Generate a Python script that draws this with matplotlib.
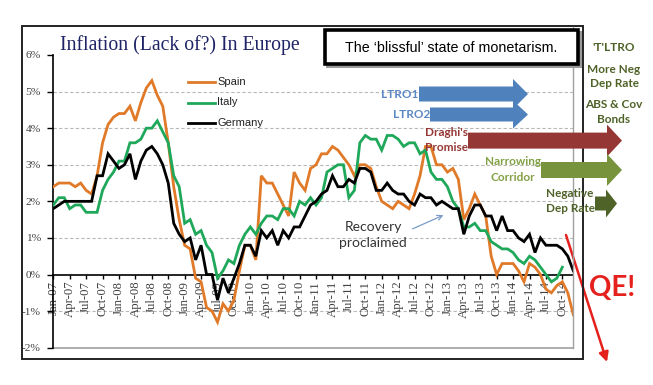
import matplotlib
matplotlib.use("Agg")
import matplotlib.pyplot as plt
from matplotlib.patches import Polygon, Rectangle
from matplotlib.lines import Line2D
from matplotlib.transforms import Affine2D

# ---------------- data (monthly, % y/y) ----------------
spain = [2.4, 2.5, 2.5, 2.5, 2.4, 2.5, 2.3, 2.2, 2.7, 3.6, 4.1, 4.3,
         4.4, 4.4, 4.6, 4.2, 4.7, 5.1, 5.3, 4.9, 4.6, 3.6, 2.4, 1.5,
         0.8, 0.7, -0.1, -0.2, -0.9, -1.0, -1.3, -0.8, -1.0, -0.7, 0.1, 0.8,
         0.8, 0.4, 2.7, 2.5, 2.5, 2.2, 1.9, 1.6, 2.8, 2.5, 2.3, 2.9,
         3.0, 3.3, 3.3, 3.5, 3.4, 3.2, 3.0, 2.7, 3.0, 3.0, 2.9, 2.4,
         2.0, 1.9, 1.8, 2.0, 1.9, 1.8, 2.2, 2.7, 3.5, 3.5, 3.0, 3.0,
         2.8, 2.9, 2.6, 1.5, 1.8, 2.2, 1.9, 1.6, 0.5, 0.0, 0.3, 0.3,
         0.3, 0.1, -0.2, 0.3, 0.2, 0.0, -0.4, -0.5, -0.3, -0.2, -0.5, -1.1]
italy = [1.9, 2.1, 2.1, 1.8, 1.9, 1.9, 1.7, 1.7, 1.7, 2.3, 2.6, 2.8,
         3.1, 3.1, 3.6, 3.6, 3.7, 4.0, 4.0, 4.2, 3.9, 3.6, 2.7, 2.4,
         1.4, 1.5, 1.1, 1.2, 0.8, 0.6, -0.1, 0.1, 0.4, 0.3, 0.8, 1.1,
         1.3, 1.1, 1.4, 1.6, 1.6, 1.5, 1.8, 1.8, 1.6, 2.0, 1.9, 2.1,
         1.9, 2.1, 2.8, 2.9, 3.0, 3.0, 2.1, 2.3, 3.6, 3.8, 3.7, 3.7,
         3.4, 3.8, 3.8, 3.7, 3.5, 3.6, 3.6, 3.3, 3.4, 2.8, 2.6, 2.6,
         2.4, 2.0, 1.8, 1.3, 1.3, 1.4, 1.2, 1.2, 0.9, 0.8, 0.7, 0.7,
         0.6, 0.4, 0.3, 0.5, 0.4, 0.2, 0.0, -0.2, -0.1, 0.2]
germany = [1.8, 1.9, 2.0, 2.0, 2.0, 2.0, 2.0, 2.0, 2.7, 2.7, 3.3, 3.1,
           2.9, 3.0, 3.3, 2.6, 3.1, 3.4, 3.5, 3.3, 3.0, 2.5, 1.4, 1.1,
           0.9, 1.0, 0.4, 0.8, 0.0, 0.0, -0.7, -0.1, -0.5, -0.1, 0.3, 0.8,
           0.8, 0.5, 1.2, 1.0, 1.2, 0.8, 1.2, 1.0, 1.3, 1.3, 1.6, 1.9,
           2.0, 2.2, 2.3, 2.7, 2.4, 2.4, 2.6, 2.5, 2.9, 2.9, 2.8, 2.3,
           2.3, 2.5, 2.3, 2.2, 2.2, 2.0, 1.9, 2.2, 2.1, 2.1, 1.9, 2.0,
           1.9, 1.8, 1.8, 1.1, 1.6, 1.9, 1.9, 1.6, 1.6, 1.2, 1.6, 1.2,
           1.2, 1.0, 0.9, 1.1, 0.6, 1.0, 0.8, 0.8, 0.8, 0.7, 0.5, 0.1]
series_names = ["Spain", "Italy", "Germany"]
series_colors = ["#E07A28", "#1FA85A", "#000000"]
quarter_months = ["Jan", "Apr", "Jul", "Oct"]
years = ["07", "08", "09", "10", "11", "12", "13", "14"]
tick_labels = [f"{m}-{y}" for y in years for m in quarter_months]
y_ticks = [-2, -1, 0, 1, 2, 3, 4, 5, 6]

W, H = 653, 385
fig = plt.figure(figsize=(W / 100, H / 100), dpi=100)
fig.patch.set_facecolor("white")
PX = Affine2D().scale(1 / W, -1 / H).translate(0, 1) + fig.transFigure


def fx(x):
    return x / W


def fy(y):
    return 1 - y / H


# outer chart border
fig.add_artist(Rectangle((21.7, 26), 583.3 - 21.7, 359 - 26, fill=False,
                         edgecolor="#222222", lw=1.4, transform=PX))
# plot-area right border
fig.add_artist(Line2D([573.3, 573.3], [27, 347.7], color="#A0A0A0", lw=1.0,
                      transform=PX))

ax = fig.add_axes([fx(53.3), fy(347.7), (573.3 - 53.3) / W, (347.7 - 55) / H])
ax.set_xlim(0, 95)
ax.set_ylim(-2, 6)
ax.set_facecolor("none")

for g in [-1, 1, 2, 3, 4, 5]:
    ax.axhline(g, color="#B8B8B8", lw=0.8, ls=(0, (3, 2)), zorder=1)
ax.axhline(-2, color="#A0A0A0", lw=1.2, zorder=1, clip_on=False)

for name, vals, col in zip(series_names, [spain, italy, germany], series_colors):
    ax.plot(range(len(vals)), vals, color=col, lw=2.0, zorder=3,
            solid_joinstyle="miter")

for s in ["top", "right"]:
    ax.spines[s].set_visible(False)
ax.spines["bottom"].set_position(("data", 0))
ax.spines["bottom"].set_color("black")
ax.spines["bottom"].set_linewidth(1.2)
ax.spines["left"].set_color("black")
ax.spines["left"].set_linewidth(1.2)
ax.spines["left"].set_bounds(-2, 6)

ax.set_yticks(y_ticks)
ax.set_yticklabels([f"{v}%" for v in y_ticks], fontfamily="Liberation Serif",
                   fontsize=8.2, color="#404040")
ax.set_xticks(range(0, 94, 3))
ax.set_xticklabels(tick_labels, rotation=90, fontfamily="Liberation Serif",
                   fontsize=9.2, color="#404040", va="top", ha="center")
ax.tick_params(axis="y", direction="out", length=4, width=1, pad=5)
ax.tick_params(axis="x", direction="out", length=3, width=1, pad=1.5)

# legend (manual, inside plot)
for i, (name, col) in enumerate(zip(series_names, series_colors)):
    yy = 82 + i * 20.5
    fig.add_artist(Line2D([188, 215], [yy, yy], color=col, lw=2.0, transform=PX))
    fig.text(fx(217), fy(yy), name, fontfamily="Liberation Sans", fontsize=8,
             color="#222222", va="center", ha="left")

# title
fig.text(fx(60), fy(45), "Inflation (Lack of?) In Europe", fontfamily="Liberation Serif",
         fontsize=14.2, color="#1F2466", va="center", ha="left")

# text box with shadow
fig.add_artist(Rectangle((326, 31), 579 - 323, 65 - 28, facecolor="#9A9A9A",
                         edgecolor="none", transform=PX, zorder=5))
fig.add_artist(Rectangle((324.5, 29.5), 579 - 326, 65 - 31, facecolor="white",
                         edgecolor="black", lw=2.6, transform=PX, zorder=6))
fig.text(fx(451), fy(48), "The \u2018blissful\u2019 state of monetarism.",
         fontfamily="Liberation Sans", fontsize=10.3, color="black",
         va="center", ha="center", zorder=7)


def block_arrow(x0, xb, xa, cy, bh, hh, color):
    pts = [(x0, cy - bh), (xb, cy - bh), (xb, cy - hh), (xa, cy),
           (xb, cy + hh), (xb, cy + bh), (x0, cy + bh)]
    fig.add_artist(Polygon(pts, closed=True, facecolor=color, edgecolor="none",
                           transform=PX, zorder=8))


block_arrow(419, 513, 528, 94, 7.5, 15, "#4F81BD")
block_arrow(430, 513, 528, 114.5, 7, 14, "#4F81BD")
block_arrow(468, 607, 622, 140.6, 8, 16, "#953735")
block_arrow(541, 607, 622, 170, 8, 16, "#77933C")
block_arrow(595, 606, 617, 203.5, 7, 14, "#4F6228")

lab = dict(fontfamily="Lato", fontweight="bold", fontsize=8.5, zorder=9)
fig.text(fx(418), fy(95), "LTRO1", color="#5B87C5", ha="right", va="center", **lab)
fig.text(fx(430), fy(114), "LTRO2", color="#5B87C5", ha="right", va="center", **lab)
fig.text(fx(446), fy(133), "Draghi's", color="#953735", ha="center", va="center", **lab)
fig.text(fx(446), fy(147.5), "Promise", color="#953735", ha="center", va="center", **lab)
fig.text(fx(512.5), fy(162), "Narrowing", color="#82A044", ha="center", va="center", **lab)
fig.text(fx(512.5), fy(177), "Corridor", color="#82A044", ha="center", va="center", **lab)
fig.text(fx(570), fy(194), "Negative", color="#4F6228", ha="center", va="center", **lab)
fig.text(fx(570), fy(208.5), "Dep Rate", color="#4F6228", ha="center", va="center", **lab)

right = [("'T'LTRO", 47.3), ("More Neg", 69.5), ("Dep Rate", 83.5),
         ("ABS & Cov", 105), ("Bonds", 119.3)]
for t, yy in right:
    fig.text(fx(614), fy(yy), t, color="#4F6228", ha="center", va="center", **lab)

# recovery proclaimed
fig.text(fx(373), fy(227), "Recovery", fontfamily="Lato", fontsize=10,
         color="#333333", ha="center", va="center", zorder=9)
fig.text(fx(373), fy(243), "proclaimed", fontfamily="Lato", fontsize=10,
         color="#333333", ha="center", va="center", zorder=9)
ax.annotate("", xy=(fx(446), fy(214)), xytext=(fx(410), fy(230)),
            xycoords="figure fraction", textcoords="figure fraction",
            arrowprops=dict(arrowstyle="->", color="#7A9CC6", lw=0.9,
                            mutation_scale=9))

# QE arrow and text
ax.annotate("", xy=(fx(607), fy(362)), xytext=(fx(566), fy(235)),
            xycoords="figure fraction", textcoords="figure fraction",
            arrowprops=dict(arrowstyle="-|>", color="#E5211E", lw=1.8,
                            mutation_scale=14, shrinkA=0, shrinkB=0))
fig.text(fx(612), fy(288), "QE!", fontfamily="Lato", fontweight="bold",
         fontsize=20, color="#E5211E", ha="center", va="center", zorder=9)

fig.savefig("out.png", dpi=100, facecolor="white")
